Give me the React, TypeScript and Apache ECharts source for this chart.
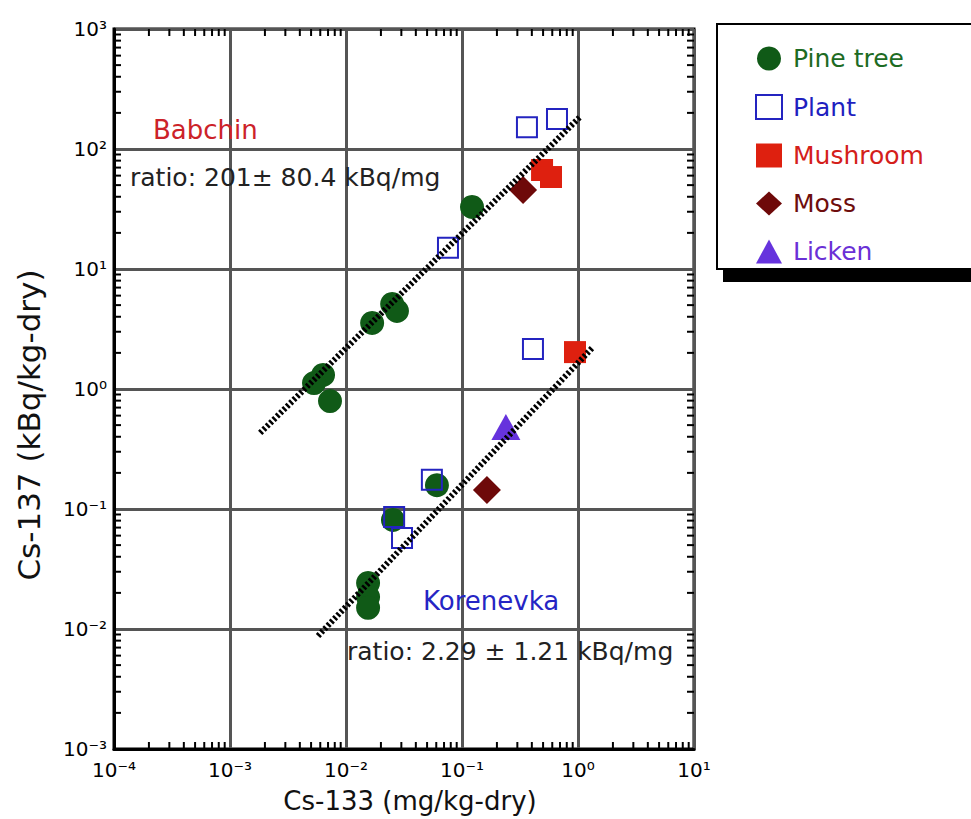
import React, { useEffect, useRef } from 'react';
import * as echarts from 'echarts';

// Cs-133 (mg/kg-dry), Cs-137 (kBq/kg-dry)
const pineTree: number[][] = [
  [0.122, 32.9], [0.025, 5.11], [0.0275, 4.47], [0.0168, 3.55],
  [0.00634, 1.31], [0.0053, 1.12], [0.00728, 0.794],
  [0.0608, 0.158], [0.0254, 0.081],
  [0.0155, 0.0242], [0.0155, 0.0185], [0.0155, 0.015],
];
const plant: number[][] = [
  [0.363, 152], [0.659, 178], [0.0757, 15.0],
  [0.409, 2.15], [0.055, 0.175], [0.026, 0.0858], [0.0304, 0.0573],
];
const mushroom: number[][] = [[0.49, 66.8], [0.585, 58.4], [0.942, 2.03]];
const moss: number[][] = [[0.336, 45.5], [0.164, 0.144]];
const licken: number[][] = [[0.239, 0.482]];
const babchinFit: number[][] = [[0.00182, 0.43], [1.04, 185]];
const korenevkaFit: number[][] = [[0.00574, 0.00875], [1.35, 2.24]];

const xMin = 1e-4, xMax = 10, yMin = 1e-3, yMax = 1e3;
const minorMultipliers = [2, 3, 4, 5, 6, 7, 8, 9];

const FONT = 'DejaVu Sans';
const SUP: Record<string, string> = {
  '-': '\u207b', '0': '\u2070', '1': '\u00b9', '2': '\u00b2', '3': '\u00b3',
  '4': '\u2074', '5': '\u2075', '6': '\u2076', '7': '\u2077', '8': '\u2078', '9': '\u2079',
};

function minorTicks(): number[][] {
  const out: number[][] = [];
  for (let e = Math.round(Math.log10(xMin)); e < Math.round(Math.log10(xMax)); e++) {
    minorMultipliers.forEach((m) => out.push([m * Math.pow(10, e), 1, 0]));
  }
  for (let e = Math.round(Math.log10(yMin)); e < Math.round(Math.log10(yMax)); e++) {
    minorMultipliers.forEach((m) => out.push([1, m * Math.pow(10, e), 1]));
  }
  return out;
}

const powLabel = (v: number) => {
  const e = String(Math.round(Math.log10(v)));
  return '10' + e.split('').map((c) => SUP[c] || c).join('');
};

export default function App() {
  const ref = useRef<HTMLDivElement>(null);
  useEffect(() => {
    if (!ref.current) return;
    const chart = echarts.init(ref.current, null, { renderer: 'svg' });
    const scatterBase = { type: 'scatter', emphasis: { disabled: true }, z: 3 };
    chart.setOption({
      animation: false,
      backgroundColor: '#fff',
      grid: {
        left: 114, top: 29, width: 580, height: 720,
        show: true, borderColor: '#000', borderWidth: 3, backgroundColor: 'transparent',
      },
      xAxis: {
        type: 'log', logBase: 10, min: xMin, max: xMax,
        axisLine: { show: true, lineStyle: { color: '#000', width: 3 } },
        axisTick: { show: false },
        splitLine: { show: true, lineStyle: { color: '#555', width: 3 } },
        axisLabel: {
          formatter: powLabel, margin: 11, showMinLabel: true, showMaxLabel: true,
          fontSize: 20, fontFamily: FONT, color: '#000',
        },
      },
      yAxis: {
        type: 'log', logBase: 10, min: yMin, max: yMax,
        axisLine: { show: true, lineStyle: { color: '#000', width: 3 } },
        axisTick: { show: false },
        splitLine: { show: true, lineStyle: { color: '#555', width: 3 } },
        axisLabel: {
          formatter: powLabel, margin: 7, showMinLabel: true, showMaxLabel: true,
          fontSize: 20, fontFamily: FONT, color: '#000', padding: [0, 0, 6, 0],
        },
      },
      legend: {
        orient: 'vertical', left: 717, top: 24,
        padding: [22, 160, 5, 38],
        itemWidth: 26, itemHeight: 24, itemGap: 23,
        backgroundColor: '#fff', borderColor: '#000', borderWidth: 2,
        z: 10,
        textStyle: { fontSize: 25, fontFamily: FONT, padding: [0, 0, 0, 6] },
        data: [
          { name: 'Pine tree', textStyle: { color: '#1d6b23' } },
          { name: 'Plant', textStyle: { color: '#1f1fc0' } },
          { name: 'Mushroom', textStyle: { color: '#d4201a' } },
          { name: 'Moss', textStyle: { color: '#6e0d0d' } },
          { name: 'Licken', textStyle: { color: '#6a30d6' } },
        ],
      },
      graphic: [
        { type: 'rect', z: 5, shape: { x: 723, y: 30, width: 300, height: 252 }, style: { fill: '#000' } },
        { type: 'text', x: 153, y: 130, z: 20, style: { text: 'Babchin', fill: '#cc2229', fontSize: 26, fontFamily: FONT, align: 'left', verticalAlign: 'middle' } },
        { type: 'text', x: 130, y: 177, z: 20, style: { text: 'ratio: 201\u00b1 80.4 kBq/mg', fill: '#222', fontSize: 25, fontFamily: FONT, align: 'left', verticalAlign: 'middle' } },
        { type: 'text', x: 423, y: 601, z: 20, style: { text: 'Korenevka', fill: '#2525c4', fontSize: 26, fontFamily: FONT, align: 'left', verticalAlign: 'middle' } },
        { type: 'text', x: 347, y: 651, z: 20, style: { text: 'ratio: 2.29 \u00b1 1.21 kBq/mg', fill: '#222', fontSize: 25, fontFamily: FONT, align: 'left', verticalAlign: 'middle' } },
        { type: 'text', x: 410, y: 801, z: 20, style: { text: 'Cs-133 (mg/kg-dry)', fill: '#111', fontSize: 26, fontFamily: FONT, align: 'center', verticalAlign: 'middle' } },
        { type: 'text', x: 29, y: 425, rotation: Math.PI / 2, z: 20, style: { text: 'Cs-137 (kBq/kg-dry)', fill: '#111', fontSize: 31, fontFamily: FONT, align: 'center', verticalAlign: 'middle' } },
      ],
      series: [
        {
          type: 'custom', name: 'minorTicks', silent: true, z: 6,
          data: minorTicks(),
          renderItem: (params: any, api: any) => {
            const cs = params.coordSys;
            const kind = api.value(2);
            const L = 7;
            const st = { stroke: '#000', lineWidth: 2 };
            if (kind === 0) {
              const x = api.coord([api.value(0), 1])[0];
              return {
                type: 'group', children: [
                  { type: 'line', shape: { x1: x, y1: cs.y + cs.height, x2: x, y2: cs.y + cs.height - L }, style: st },
                  { type: 'line', shape: { x1: x, y1: cs.y, x2: x, y2: cs.y + L }, style: st },
                ],
              };
            }
            const y = api.coord([1, api.value(1)])[1];
            return {
              type: 'group', children: [
                { type: 'line', shape: { x1: cs.x, y1: y, x2: cs.x + L, y2: y }, style: st },
                { type: 'line', shape: { x1: cs.x + cs.width, y1: y, x2: cs.x + cs.width - L, y2: y }, style: st },
              ],
            };
          },
        },
        { ...scatterBase, name: 'Pine tree', data: pineTree, symbol: 'circle', symbolSize: 24, itemStyle: { color: '#105a17', opacity: 1 } },
        { ...scatterBase, name: 'Plant', data: plant, symbol: 'rect', symbolSize: 20, itemStyle: { color: 'rgba(255,255,255,0)', borderColor: '#2424c0', borderWidth: 2, opacity: 1 } },
        { ...scatterBase, name: 'Mushroom', data: mushroom, symbol: 'rect', symbolSize: 22, itemStyle: { color: '#de200f', opacity: 1 } },
        { ...scatterBase, name: 'Moss', data: moss, symbol: 'diamond', symbolSize: 28, itemStyle: { color: '#6e0909', opacity: 1 } },
        { ...scatterBase, name: 'Licken', data: licken, symbol: 'triangle', symbolSize: [29, 26], itemStyle: { color: '#6633dd', opacity: 1 } },
        {
          type: 'line', name: 'Babchin fit', data: babchinFit, showSymbol: false, symbol: 'none', silent: true, z: 8,
          lineStyle: { color: '#000', width: 6, type: [2.5, 2.2] },
        },
        {
          type: 'line', name: 'Korenevka fit', data: korenevkaFit, showSymbol: false, symbol: 'none', silent: true, z: 8,
          lineStyle: { color: '#000', width: 6, type: [2.5, 2.2] },
        },
      ],
    });
    return () => chart.dispose();
  }, []);
  return <div ref={ref} style={{ position: 'fixed', left: 0, top: 0, width: 971, height: 819, background: '#fff' }} />;
}
